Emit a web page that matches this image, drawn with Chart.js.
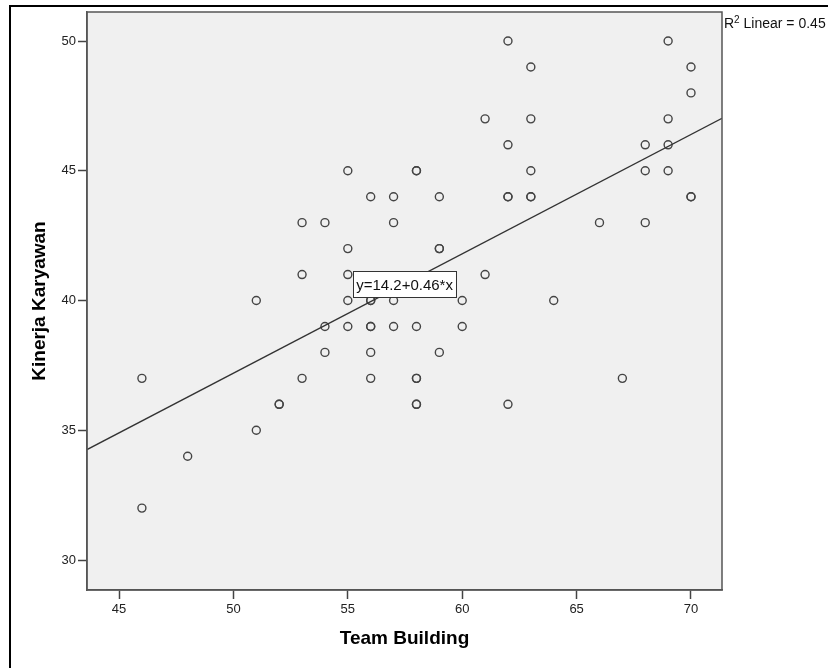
<!DOCTYPE html>
<html>
<head>
<meta charset="utf-8">
<script src="https://cdn.jsdelivr.net/npm/chart.js@4.4.1/dist/chart.umd.min.js"></script>
<style>
  html, body { margin: 0; padding: 0; background: #fff; }
  #wrap { width: 828px; height: 668px; }
</style>
</head>
<body>
<div id="wrap"><canvas id="myChart" width="828" height="668"></canvas></div>
<script>
// Team Building (x) vs Kinerja Karyawan (y)
const teamBuilding = [46,46,48,51,51,52,52,53,53,53,54,54,54,55,55,55,55,55,
  56,56,56,56,56,56,56,57,57,57,57,58,58,58,58,58,58,58,59,59,59,59,60,60,
  61,61,62,62,62,62,62,63,63,63,63,63,64,66,67,68,68,68,69,69,69,69,70,70,70,70];
const kinerja = [37,32,34,40,35,36,36,43,41,37,43,39,38,45,42,41,40,39,
  44,40,40,39,39,38,37,44,43,40,39,45,45,39,37,37,36,36,44,42,42,38,40,39,
  47,41,50,46,44,44,36,49,47,45,44,44,40,43,37,46,45,43,50,47,46,45,49,48,44,44];

const xTicks = [45, 50, 55, 60, 65, 70];
const yTicks = [30, 35, 40, 45, 50];

// fit line from the chart
const intercept = 14.2;
const slope = 0.46;
const rSquared = 0.45;
const eqLabel = "y=14.2+0.46*x";

const xMin = 43.6, xMax = 71.355;
const yMin = 28.844, yMax = 51.118;

const points = teamBuilding.map((x, i) => ({ x: x, y: kinerja[i] }));
const fitLine = [
  { x: xMin, y: intercept + slope * xMin },
  { x: xMax, y: intercept + slope * xMax }
];

const FONT = "'Liberation Sans', Arial, sans-serif";

const frame = {
  id: 'frame',
  beforeDraw(chart) {
    const { ctx, chartArea: a } = chart;
    ctx.save();
    ctx.fillStyle = '#f0f0f0';
    ctx.fillRect(a.left, a.top, a.right - a.left, a.bottom - a.top);
    // outer border of the figure
    ctx.strokeStyle = '#000';
    ctx.lineWidth = 2;
    ctx.beginPath();
    ctx.moveTo(10, 700);
    ctx.lineTo(10, 6);
    ctx.lineTo(900, 6);
    ctx.stroke();
    ctx.restore();
  },
  afterDraw(chart) {
    const { ctx, chartArea: a, scales } = chart;
    ctx.save();
    ctx.strokeStyle = '#555';
    ctx.lineWidth = 1.5;
    ctx.strokeRect(a.left, a.top, a.right - a.left, a.bottom - a.top);

    // equation box
    ctx.font = '15px ' + FONT;
    const cx = scales.x.getPixelForValue(57.48);
    const cy = scales.y.getPixelForValue(40.62);
    const w = ctx.measureText(eqLabel).width + 6;
    const h = 26;
    ctx.fillStyle = '#fff';
    ctx.fillRect(cx - w / 2, cy - h / 2, w, h);
    ctx.strokeStyle = '#333';
    ctx.lineWidth = 1;
    ctx.strokeRect(Math.round(cx - w / 2) + 0.5, Math.round(cy - h / 2) + 0.5, Math.round(w), h);
    ctx.fillStyle = '#111';
    ctx.textAlign = 'center';
    ctx.textBaseline = 'middle';
    ctx.fillText(eqLabel, cx, cy + 1);

    // R2 note on the right
    let tx = a.right + 2;
    const ty = a.top + 12;
    ctx.textAlign = 'left';
    ctx.font = '14px ' + FONT;
    ctx.fillText('R', tx, ty);
    tx += ctx.measureText('R').width;
    ctx.font = '10px ' + FONT;
    ctx.fillText('2', tx, ty - 4);
    tx += ctx.measureText('2').width;
    ctx.font = '14px ' + FONT;
    ctx.fillText(' Linear = ' + rSquared.toFixed(2), tx, ty);
    ctx.restore();
  }
};

const ctx = document.getElementById('myChart').getContext('2d');

new Chart(ctx, {
  type: 'scatter',
  data: {
    datasets: [
      {
        label: 'Kinerja Karyawan',
        data: points,
        showLine: false,
        pointStyle: 'circle',
        pointRadius: 4,
        pointBorderWidth: 1.4,
        pointBorderColor: '#444',
        pointBackgroundColor: 'rgba(0,0,0,0)',
        order: 2
      },
      {
        label: 'Linear',
        data: fitLine,
        showLine: true,
        borderColor: '#333',
        borderWidth: 1.3,
        pointRadius: 0,
        order: 1
      }
    ]
  },
  options: {
    responsive: false,
    animation: false,
    layout: { padding: { left: 0, top: 12, right: 106, bottom: 0 } },
    plugins: {
      legend: { display: false },
      tooltip: { enabled: false }
    },
    scales: {
      x: {
        type: 'linear',
        min: xMin,
        max: xMax,
        afterFit: s => { s.height = 78; },
        afterBuildTicks: s => { s.ticks = xTicks.map(v => ({ value: v })); },
        ticks: {
          padding: 3,
          color: '#222',
          font: { family: FONT, size: 13 },
          maxRotation: 0
        },
        grid: {
          drawOnChartArea: false,
          tickLength: 9,
          tickColor: '#444',
          tickWidth: 1.5
        },
        border: { color: '#555', width: 1.5 },
        title: {
          display: true,
          text: 'Team Building',
          color: '#000',
          font: { family: FONT, size: 19, weight: 'bold' },
          padding: { bottom: 18 }
        }
      },
      y: {
        type: 'linear',
        min: yMin,
        max: yMax,
        afterFit: s => { s.width = 87; },
        afterBuildTicks: s => { s.ticks = yTicks.map(v => ({ value: v })); },
        ticks: {
          padding: 2,
          color: '#222',
          font: { family: FONT, size: 13 }
        },
        grid: {
          drawOnChartArea: false,
          tickLength: 9,
          tickColor: '#444',
          tickWidth: 1.5
        },
        border: { color: '#555', width: 1.5 },
        title: {
          display: true,
          text: 'Kinerja Karyawan',
          color: '#000',
          font: { family: FONT, size: 19, weight: 'bold' },
          padding: { top: 28 }
        }
      }
    }
  },
  plugins: [frame]
});
</script>
</body>
</html>
